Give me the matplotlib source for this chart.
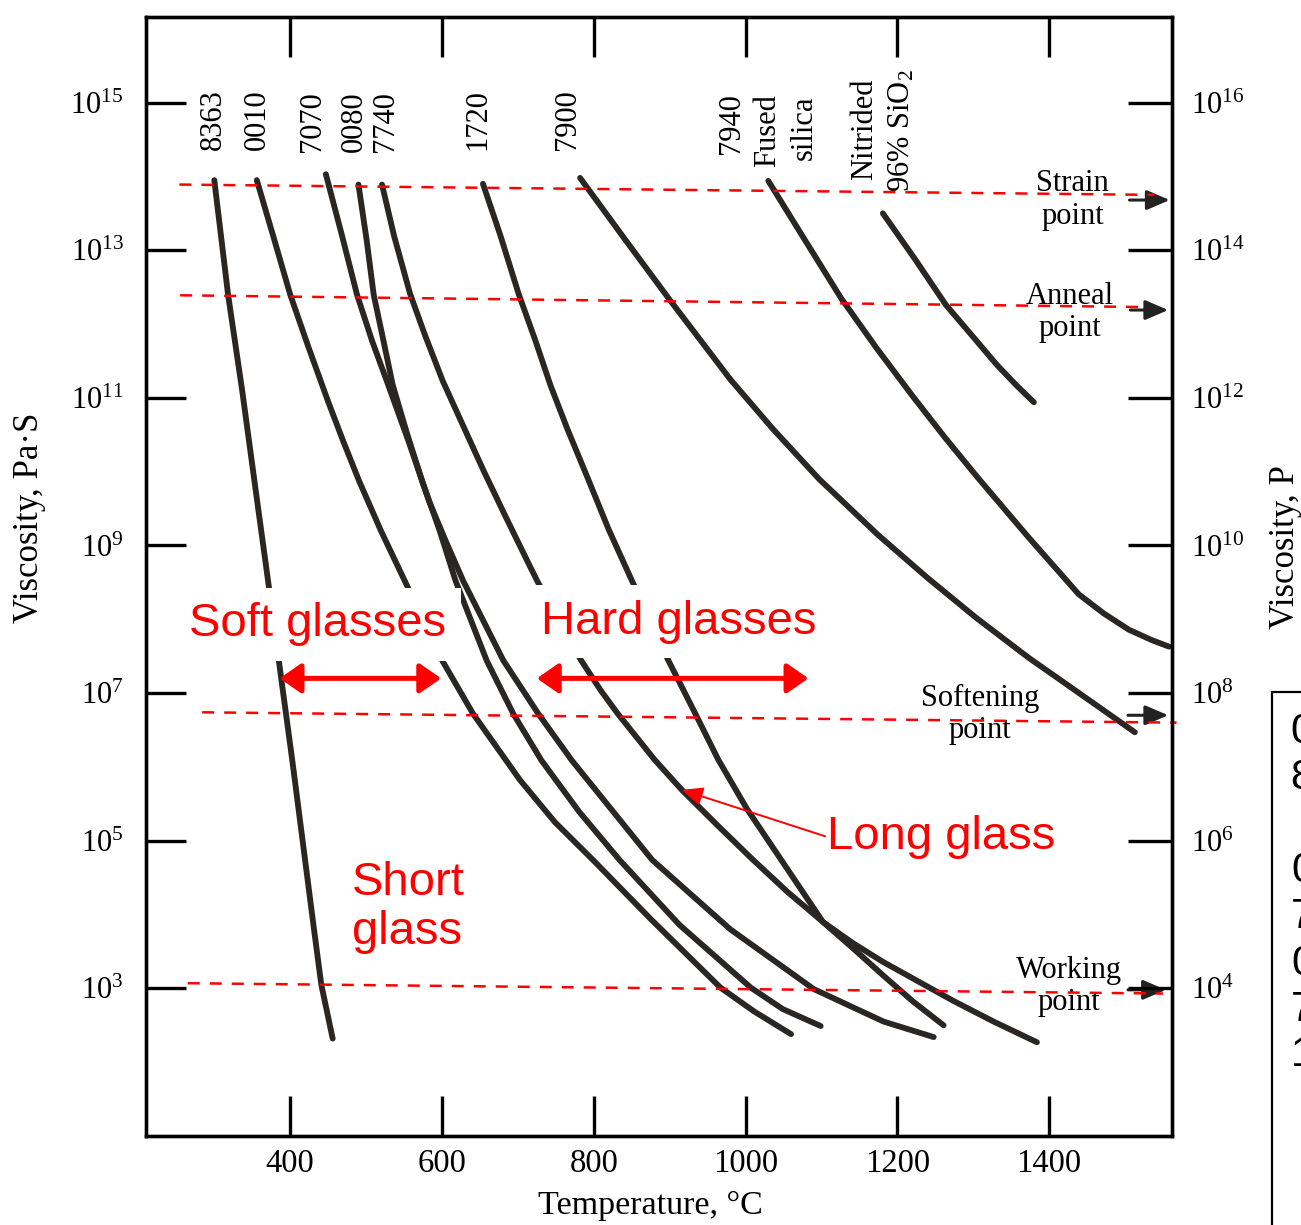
import numpy as np
import matplotlib
matplotlib.use("Agg")
import matplotlib.pyplot as plt
from matplotlib.ticker import FixedLocator, LogFormatterMathtext, NullLocator
from matplotlib.patches import Rectangle

plt.rcParams['font.family'] = ['Liberation Serif', 'DejaVu Serif']
plt.rcParams['mathtext.fontset'] = 'custom'
plt.rcParams['mathtext.rm'] = 'Liberation Serif'
plt.rcParams['mathtext.it'] = 'Liberation Serif:italic'
plt.rcParams['mathtext.bf'] = 'Liberation Serif:bold'

# temperature (C) and log10 viscosity (Pa.s)
t_8363 = [300, 318, 337, 354, 371, 387, 403, 420, 431, 441, 456]
v_8363 = [13.95, 12.41, 11.08, 9.79, 8.51, 7.29, 6.07, 4.71, 3.83, 3.05, 2.32]
t_0010 = [356, 378, 400, 424, 450, 470, 491, 520, 551, 601, 641, 703, 749, 799, 876, 967, 1011, 1060]
v_0010 = [13.95, 13.18, 12.40, 11.69, 10.95, 10.41, 9.87, 9.19, 8.52, 7.43, 6.72, 5.82, 5.25, 4.74,
          3.93, 3.01, 2.69, 2.38]
t_0080 = [490, 501, 510, 523, 535, 553, 574, 597, 618, 659, 694, 731, 781, 834, 913, 1007, 1049, 1099]
v_0080 = [13.89, 13.12, 12.40, 11.77, 11.18, 10.55, 9.87, 9.20, 8.52, 7.44, 6.72, 6.09, 5.39, 4.74,
          3.86, 3.01, 2.72, 2.49]
t_7070 = [447, 468, 488, 508, 529, 556, 583, 605, 628, 681, 727, 771, 877, 980, 1090, 1182, 1248]
v_7070 = [14.03, 13.21, 12.40, 11.77, 11.18, 10.41, 9.60, 9.06, 8.52, 7.44, 6.72, 6.09, 4.74, 3.80,
          2.99, 2.55, 2.34]
t_7740 = [521, 537, 558, 578, 601, 628, 655, 683, 712, 725, 753, 783, 809, 831, 880, 916, 962,
          1009, 1055, 1102, 1142, 1181, 1274, 1327, 1384]
v_7740 = [13.89, 13.19, 12.41, 11.84, 11.23, 10.62, 10.01, 9.41, 8.80, 8.53, 7.99, 7.45, 7.04, 6.73,
          6.10, 5.69, 5.22, 4.75, 4.31, 3.90, 3.61, 3.36, 2.83, 2.55, 2.27]
t_1720 = [654, 677, 701, 723, 743, 766, 793, 820, 850, 898, 933, 964, 1002, 1051, 1102, 1142, 1182,
          1221, 1261]
v_1720 = [13.90, 13.20, 12.41, 11.78, 11.17, 10.56, 9.89, 9.21, 8.53, 7.45, 6.74, 6.10, 5.43, 4.68,
          3.90, 3.54, 3.17, 2.82, 2.50]
t_7900 = [782, 841, 900, 940, 980, 1036, 1097, 1175, 1240, 1304, 1373, 1441, 1513]
v_7900 = [13.98, 13.15, 12.33, 11.79, 11.25, 10.58, 9.90, 9.14, 8.56, 8.02, 7.48, 6.99, 6.47]
t_7940 = [1030, 1077, 1126, 1173, 1222, 1263, 1306, 1373, 1439, 1472, 1505, 1535, 1558]
v_7940 = [13.94, 13.16, 12.35, 11.67, 11.00, 10.46, 9.92, 9.11, 8.34, 8.08, 7.86, 7.72, 7.63]
t_nitr = [1181, 1224, 1264, 1298, 1331, 1357, 1380]
v_nitr = [13.50, 12.87, 12.26, 11.85, 11.45, 11.17, 10.94]

# reference viscosity lines (red dashed), ends in (C, log10 Pa.s)
strain_t, strain_v = [254, 1539], [13.89, 13.75]
anneal_t, anneal_v = [255, 1527], [12.39, 12.23]
soften_t, soften_v = [284, 1568], [6.74, 6.60]
work_t, work_v = [265, 1550], [3.07, 2.93]

x_ticks = [400, 600, 800, 1000, 1200, 1400]
y_exp_left = [3, 5, 7, 9, 11, 13, 15]
y_exp_right = [4, 6, 8, 10, 12, 14, 16]

fig = plt.figure(figsize=(13.01, 12.25), dpi=100)
ax = fig.add_axes([146/1301, 1-1136/1225, (1172-146)/1301, (1136-17)/1225])
ax.set_yscale('log')
ax.set_xlim(210, 1562)
ax.set_ylim(10**1.0, 10**16.16)

curve_col = '#2a2624'
for t, v in [(t_8363, v_8363), (t_0010, v_0010), (t_0080, v_0080), (t_7070, v_7070),
             (t_7740, v_7740), (t_1720, v_1720), (t_7900, v_7900), (t_7940, v_7940),
             (t_nitr, v_nitr)]:
    ax.plot(t, 10.0**np.array(v), color=curve_col, lw=4.2, solid_capstyle='round',
            solid_joinstyle='round', zorder=2)

for t, v in [(strain_t, strain_v), (anneal_t, anneal_v), (soften_t, soften_v), (work_t, work_v)]:
    ax.plot(t, 10.0**np.array(v), color='red', lw=1.8, ls=(0, (4.8, 4)), zorder=4, clip_on=False)

# axes styling
for s in ax.spines.values():
    s.set_linewidth(2.4)
ax.xaxis.set_major_locator(FixedLocator(x_ticks))
ax.yaxis.set_major_locator(FixedLocator([10.0**e for e in y_exp_left]))
ax.yaxis.set_minor_locator(NullLocator())
ax.yaxis.set_major_formatter(LogFormatterMathtext())
ax.tick_params(axis='x', direction='in', length=29, width=2.4, top=True, labelsize=23.5, pad=9)
ax.tick_params(axis='y', direction='in', length=29, width=2.4, labelsize=22, pad=16)

ax2 = ax.twinx()
ax2.set_yscale('log')
ax2.set_ylim(10**2.0, 10**17.16)
ax2.yaxis.set_major_locator(FixedLocator([10.0**e for e in y_exp_right]))
ax2.yaxis.set_minor_locator(NullLocator())
ax2.yaxis.set_major_formatter(LogFormatterMathtext())
ax2.tick_params(axis='y', direction='in', length=32, width=2.4, labelsize=22, pad=14)
for s in ax2.spines.values():
    s.set_linewidth(2.4)

# glass names along the top
xa = ax.get_xaxis_transform()
labels = [('8363', 299, 0.881), ('0010', 357, 0.881), ('7070', 430, 0.879),
          ('0080', 484, 0.879), ('7740', 526, 0.879), ('1720', 647, 0.881),
          ('7900', 766, 0.881), ('7940', 982, 0.878), ('Fused', 1029, 0.866),
          ('silica', 1078, 0.872), ('Nitrided', 1157, 0.854), ('96% SiO$_2$', 1206, 0.844)]
for txt, x, y in labels:
    ax.text(x, y, txt, rotation=90, ha='center', va='bottom', fontsize=22, transform=xa)

# point names and the black arrows of the scale
for txt, x, y in [('Strain\npoint', 1431, 13.68), ('Anneal\npoint', 1428, 12.16),
                  ('Softening\npoint', 1309, 6.71), ('Working\npoint', 1426, 3.03)]:
    ax.text(x, 10**y, txt, ha='center', va='center', fontsize=22, linespacing=1.15, zorder=3)
for x0, x1, y in [(1506, 1559, 13.68), (1507, 1557, 12.19), (1504, 1557, 6.70), (1504, 1554, 2.98)]:
    ax.annotate('', xy=(x1, 10**y), xytext=(x0, 10**y), annotation_clip=False,
                arrowprops=dict(arrowstyle='-|>,head_length=0.7,head_width=0.3', color='#222222',
                                lw=2.2, mutation_scale=20, shrinkA=0, shrinkB=0))

# red annotations
red_font = dict(family=['Liberation Sans', 'DejaVu Sans'], fontsize=34, color='red')
box = dict(boxstyle='square,pad=0.3', fc='white', ec='none')
ax.text(267, 10**7.93, 'Soft glasses', ha='left', va='center', bbox=box, zorder=5, **red_font)
ax.text(730, 10**7.97, 'Hard glasses', ha='left', va='center', bbox=box, zorder=5, **red_font)
ax.text(481, 10**4.10, 'Short\nglass', ha='left', va='center', linespacing=1.15, zorder=5, **red_font)
ax.text(1107, 10**5.05, 'Long glass', ha='left', va='center', zorder=5, **red_font)

dbl = dict(arrowstyle='<|-|>,head_length=0.65,head_width=0.45', color='red', lw=3.6,
           mutation_scale=20, shrinkA=0, shrinkB=0)
ax.annotate('', xy=(599, 10**7.2), xytext=(386, 10**7.2), arrowprops=dbl, zorder=5)
ax.annotate('', xy=(1083, 10**7.2), xytext=(725, 10**7.2), arrowprops=dbl, zorder=5)
ax.annotate('', xy=(916, 10**5.69), xytext=(1105, 10**5.06),
            arrowprops=dict(arrowstyle='-|>,head_length=0.8,head_width=0.35', color='red', lw=1.4,
                            mutation_scale=16, shrinkA=0, shrinkB=0), zorder=5)

# axis titles
fig.text(30/1301, 1-518/1225, 'Viscosity, Pa·S', rotation=90, ha='center', va='center', fontsize=25)
fig.text(1285/1301, 1-547/1225, 'Viscosity, P', rotation=90, ha='center', va='center', fontsize=25)
fig.text(650/1301, 1-1206/1225, 'Temperature, °C', ha='center', va='center', fontsize=24.5)

# cut-off note box on the right edge
fig.add_artist(Rectangle((1272/1301, -0.01), 0.2, 1-692/1225+0.01, transform=fig.transFigure,
                         fill=False, ec='black', lw=1.6, clip_on=False))
fig.text(1291/1301, 1-712/1225, '0010 and\n8363 soft\n\n0080,\n7070,\n0010,\n7740,\n1720 hard',
         ha='left', va='top', fontsize=30, linespacing=1.2, family=['Liberation Sans', 'DejaVu Sans'])

fig.savefig('out.png', dpi=100)
